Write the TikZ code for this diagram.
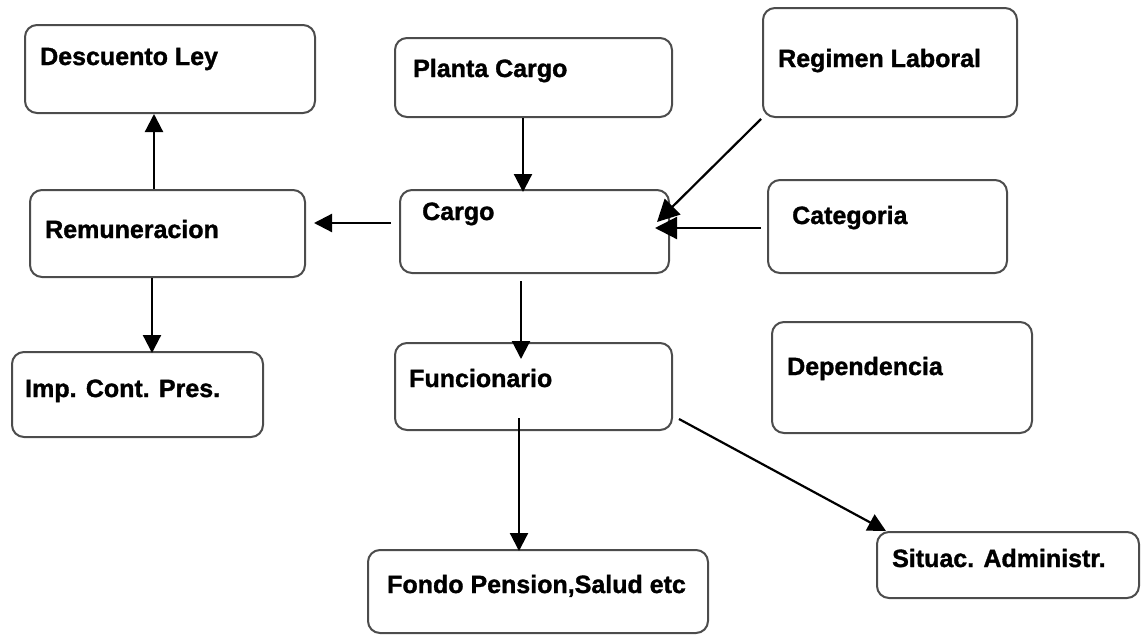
\documentclass[tikz,border=0pt]{standalone}
\usepackage{fontspec}
\setmainfont{Liberation Sans}[BoldFeatures={FakeBold=1.3}]
\usetikzlibrary{arrows.meta,calc}
\tikzset{
  box/.style={draw=black!70, line width=2pt, rounded corners=12pt, fill=white, inner sep=0pt},
  txt/.style={anchor=base west, inner sep=0pt, font=\fontsize{25}{29}\selectfont\bfseries, text=black},
  arr/.style={draw=black, line width=2.2pt, -{Triangle[length=18pt,width=18pt]}},
  bigarr/.style={draw=black, line width=2.2pt, -{Triangle[length=22pt,width=22pt]}}
}
\begin{document}
\begin{tikzpicture}[x=1pt,y=-1pt]
\useasboundingbox (0,0) rectangle (1142,635);
% boxes
\node[box, minimum width=290pt, minimum height=88pt] (desc) at (170,69) {};
\node[box, minimum width=277pt, minimum height=79pt] (planta) at (533.5,77.5) {};
\node[box, minimum width=254pt, minimum height=109pt] (regimen) at (890,62.5) {};
\node[box, minimum width=275pt, minimum height=87pt] (rem) at (167.5,233.5) {};
\node[box, minimum width=269pt, minimum height=83pt] (cargo) at (534.5,231.5) {};
\node[box, minimum width=239pt, minimum height=93pt] (cat) at (887.5,226.5) {};
\node[box, minimum width=251pt, minimum height=85pt] (imp) at (137.5,394.5) {};
\node[box, minimum width=277pt, minimum height=87pt] (func) at (533.5,386.5) {};
\node[box, minimum width=260pt, minimum height=111pt] (dep) at (902,377.5) {};
\node[box, minimum width=340pt, minimum height=83pt] (fondo) at (538,591.5) {};
\node[box, minimum width=262pt, minimum height=66pt] (sit) at (1008,565) {};
% texts
\node[txt] (descT) at (40,65) {Descuento Ley};
\node[txt] (plantaT) at (413,77) {Planta Cargo};
\node[txt] (regimenT) at (778,67) {Regimen Laboral};
\node[txt] (remT) at (45,238) {Remuneracion};
\node[txt] (cargoT) at (422,220) {Cargo};
\node[txt] (catT) at (792,224) {Categoria};
\node[txt] (impT) at (25,397) {Imp. Cont. Pres.};
\node[txt] (funcT) at (409,387) {Funcionario};
\node[txt] (depT) at (787,375) {Dependencia};
\node[txt] (fondoT) at (387,593) {Fondo Pension,Salud etc};
\node[txt] (sitT) at (892,567) {Situac. Administr.};
% connectors
\draw[arr] ($(rem.north)+(-13.5,0)$) -- ($(desc.south)+(-16,0)$);
\draw[arr] ($(cargo.west)+(-8,-8.5)$) -- ($(rem.east)+(8,-10.5)$);
\draw[arr] ($(rem.south)+(-15.5,0)$) -- ($(imp.north)+(14.5,2)$);
\draw[arr] ($(planta.south)+(-10.5,0)$) -- ($(cargo.north)+(-11.5,3)$);
\draw[bigarr] ($(regimen.south west)+(-1,1)$) -- ($(cargo.east)+(-13,-9.5)$);
\draw[bigarr] ($(cat.west)+(-6,1.5)$) -- ($(cargo.east)+(-15,-3.5)$);
\draw[arr] ($(cargo.south)+(-13.5,7)$) -- ($(func.north)+(-12.5,17)$);
\draw[arr] ($(func.south)+(-14.5,-13)$) -- ($(fondo.north)+(-19,2)$);
\draw[arr] ($(func.east)+(6,32.5)$) -- ($(sit.north west)+(10,0)$);
\end{tikzpicture}
\end{document}
